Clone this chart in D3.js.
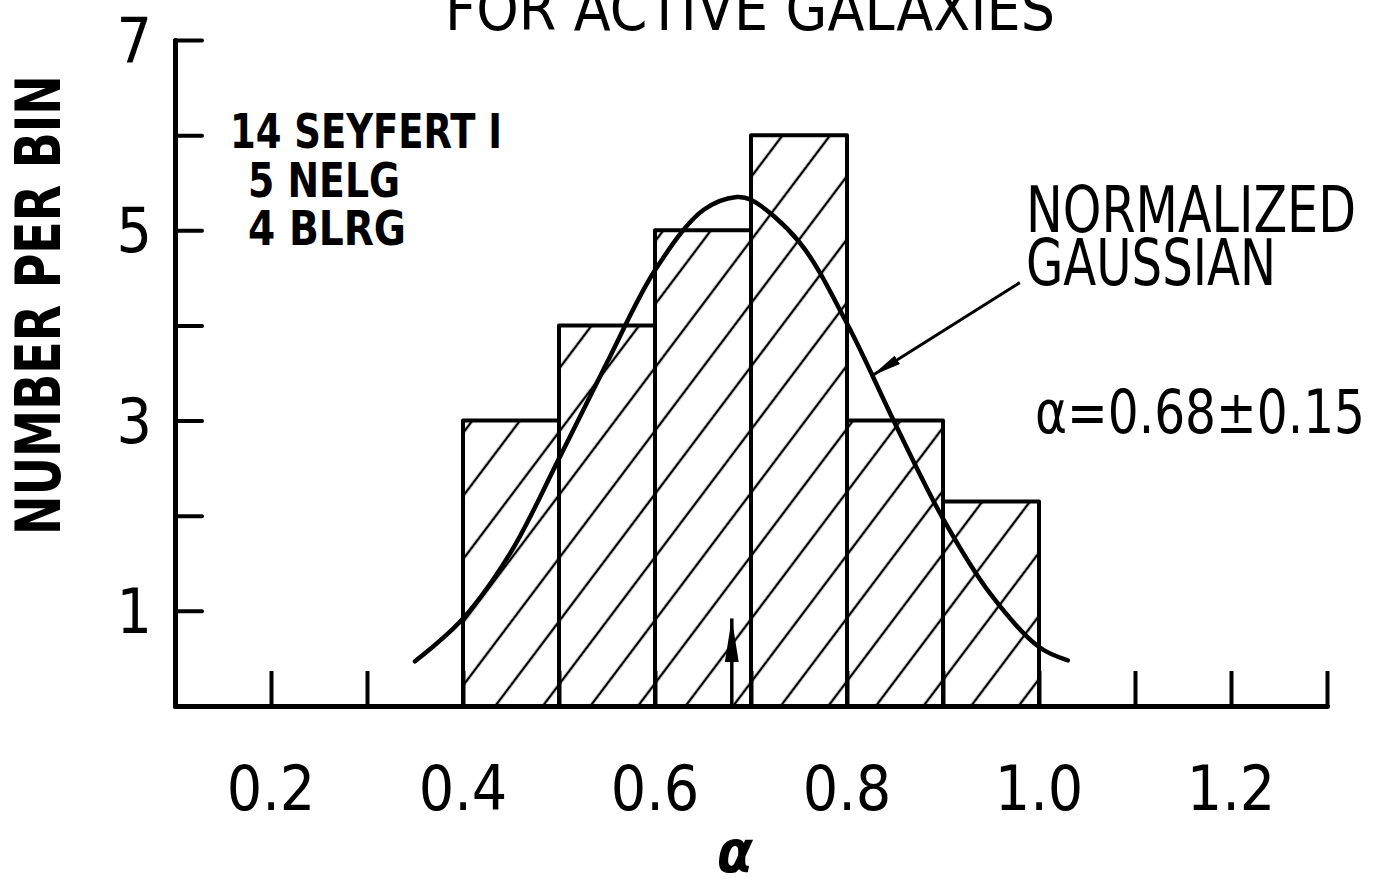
<!DOCTYPE html>
<html>
<head>
<meta charset="utf-8">
<style>
  body { margin: 0; background: #fff; }
  svg { display: block; }
  text { font-family: "Liberation Sans Narrow", "DejaVu Sans Condensed", "Noto Sans", sans-serif; fill: #000; }
</style>
</head>
<body>

<svg></svg>

<script src="https://d3js.org/d3.v7.min.js"></script>
<script>

// histogram bins (alpha) and counts
var binStarts = [0.4, 0.5, 0.6, 0.7, 0.8, 0.9];
var binWidth = 0.1;
var counts = [3, 4, 5, 6, 3, 2.15];

// normalized gaussian
var curveX = [0.35, 0.40, 0.45, 0.50, 0.55, 0.60, 0.65, 0.685, 0.70, 0.75, 0.80, 0.85, 0.90, 0.95, 1.00, 1.03];
var curveY = [0.47, 0.92, 1.62, 2.60, 3.61, 4.58, 5.21, 5.35, 5.32, 4.88, 4.02, 2.97, 1.97, 1.17, 0.62, 0.48];

var meanAlpha = 0.68;

var xTicks = [0.2, 0.3, 0.4, 0.5, 0.6, 0.7, 0.8, 0.9, 1.0, 1.1, 1.2, 1.3];
var xTickLabels = ["0.2", "0.4", "0.6", "0.8", "1.0", "1.2"];
var yTicks = [1, 2, 3, 4, 5, 6, 7];
var yTickLabels = ["1", "3", "5", "7"];

var legendLines = ["14 SEYFERT I", "5 NELG", "4 BLRG"];

var width = 1379;
var height = 879;

const svg = d3.select("svg")
    .attr("width", width)
    .attr("height", height)
    .attr("viewBox", [0, 0, width, height]);

var x = d3.scaleLinear().domain([0.1, 1.3]).range([175, 1327]);
var y = d3.scaleLinear().domain([0, 7]).range([706, 40]);

// hatch pattern
var defs = svg.append("defs");
defs.append("pattern")
    .attr("id", "hatch")
    .attr("patternUnits", "userSpaceOnUse")
    .attr("x", 3.4)
    .attr("width", 38)
    .attr("height", 38)
    .attr("patternTransform", "rotate(37)")
  .append("line")
    .attr("x1", 19).attr("y1", -2)
    .attr("x2", 19).attr("y2", 40)
    .attr("stroke", "#000")
    .attr("stroke-width", 2.4);

defs.append("marker")
    .attr("id", "head")
    .attr("viewBox", "0 0 30 10")
    .attr("refX", 30).attr("refY", 5)
    .attr("markerWidth", 30).attr("markerHeight", 10)
    .attr("markerUnits", "userSpaceOnUse")
    .attr("orient", "auto")
  .append("path")
    .attr("d", "M0,0 L30,5 L0,10 Z")
    .attr("fill", "#000");

defs.append("marker")
    .attr("id", "headMean")
    .attr("viewBox", "0 0 44 16")
    .attr("refX", 44).attr("refY", 8)
    .attr("markerWidth", 44).attr("markerHeight", 16)
    .attr("markerUnits", "userSpaceOnUse")
    .attr("orient", "auto")
  .append("path")
    .attr("d", "M0,1 L44,8 L0,15 Z")
    .attr("fill", "#000");

var bins = binStarts.map((b, i) => ({x0: b, x1: b + binWidth, n: counts[i]}));

// hatched fill
svg.append("g")
  .selectAll("rect")
  .data(bins)
  .join("rect")
    .attr("x", d => x(d.x0))
    .attr("y", d => y(d.n))
    .attr("width", d => x(d.x1) - x(d.x0))
    .attr("height", d => y(0) - y(d.n))
    .attr("fill", "url(#hatch)")
    .attr("stroke", "#000")
    .attr("stroke-width", 4)
    .attr("stroke-linejoin", "round");

// gaussian
var pts = curveX.map((v, i) => [v, curveY[i]]);
svg.append("path")
    .datum(pts)
    .attr("fill", "none")
    .attr("stroke", "#000")
    .attr("stroke-width", 4.5)
    .attr("stroke-linecap", "round")
    .attr("d", d3.line().x(d => x(d[0])).y(d => y(d[1])).curve(d3.curveCatmullRom));

// axes
var xAxis = d3.axisBottom(x)
    .tickValues(xTicks)
    .tickSizeInner(-35)
    .tickSizeOuter(0)
    .tickFormat("");
svg.append("g")
    .attr("transform", `translate(0,${y(0)})`)
    .call(xAxis)
    .call(g => g.select(".domain").attr("stroke-width", 5).attr("stroke-linecap", "round"))
    .call(g => g.selectAll(".tick line").attr("stroke-width", 4));

var yAxis = d3.axisLeft(y)
    .tickValues(yTicks)
    .tickSizeInner(-27)
    .tickSizeOuter(0)
    .tickFormat("");
svg.append("g")
    .attr("transform", `translate(${x(0.1)},0)`)
    .call(yAxis)
    .call(g => g.select(".domain").attr("stroke-width", 5).attr("stroke-linecap", "round"))
    .call(g => g.selectAll(".tick line").attr("stroke-width", 4).attr("stroke-linecap", "round"));

// tick labels
svg.append("g")
  .selectAll("text")
  .data(xTickLabels)
  .join("text")
    .attr("x", d => x(+d))
    .attr("y", 810)
    .attr("text-anchor", "middle")
    .attr("font-size", 62)
    .text(d => d);

svg.append("g")
  .selectAll("text")
  .data(yTickLabels)
  .join("text")
    .attr("x", 152)
    .attr("y", d => y(+d) + 22)
    .attr("text-anchor", "end")
    .attr("font-size", 62)
    .text(d => d);

// axis titles
svg.append("text")
    .attr("x", 735)
    .attr("y", 872)
    .attr("text-anchor", "middle")
    .attr("font-size", 58)
    .attr("font-style", "italic")
    .attr("font-weight", "bold")
    .text("α");

svg.append("text")
    .attr("transform", "translate(60,305) rotate(-90)")
    .attr("text-anchor", "middle")
    .attr("font-size", 62)
    .attr("font-weight", "bold")
    .attr("textLength", 460)
    .attr("lengthAdjust", "spacingAndGlyphs")
    .text("NUMBER PER BIN");

// title (cut off at top)
svg.append("text")
    .attr("x", 750)
    .attr("y", 30)
    .attr("text-anchor", "middle")
    .attr("font-size", 60)
    .attr("textLength", 610)
    .attr("lengthAdjust", "spacing")
    .text("FOR ACTIVE GALAXIES");

// legend
var legX = [230, 248, 248];
var legW = [272, 152, 158];
var legY = [148, 197, 245];
svg.append("g")
  .selectAll("text")
  .data(legendLines)
  .join("text")
    .attr("x", (d, i) => legX[i])
    .attr("y", (d, i) => legY[i])
    .attr("font-size", 48)
    .attr("font-weight", "bold")
    .attr("textLength", (d, i) => legW[i])
    .attr("lengthAdjust", "spacingAndGlyphs")
    .text(d => d);

// gaussian label and pointer
svg.append("text")
    .attr("x", 1026).attr("y", 232)
    .attr("font-size", 64)
    .attr("textLength", 330)
    .attr("lengthAdjust", "spacingAndGlyphs")
    .text("NORMALIZED");
svg.append("text")
    .attr("x", 1026).attr("y", 285)
    .attr("font-size", 64)
    .attr("textLength", 250)
    .attr("lengthAdjust", "spacingAndGlyphs")
    .text("GAUSSIAN");

svg.append("line")
    .attr("x1", x(0.98)).attr("y1", y(4.45))
    .attr("x2", x(0.826)).attr("y2", y(3.47))
    .attr("stroke", "#000")
    .attr("stroke-width", 3)
    .attr("marker-end", "url(#head)");

svg.append("text")
    .attr("x", 1035).attr("y", 433)
    .attr("font-size", 60)
    .attr("textLength", 330)
    .attr("lengthAdjust", "spacingAndGlyphs")
    .text("α=0.68±0.15");

// mean marker
svg.append("line")
    .attr("x1", x(meanAlpha)).attr("y1", y(0))
    .attr("x2", x(meanAlpha)).attr("y2", y(0.92))
    .attr("stroke", "#000")
    .attr("stroke-width", 3.5)
    .attr("marker-end", "url(#headMean)");

</script>

</body>
</html>
